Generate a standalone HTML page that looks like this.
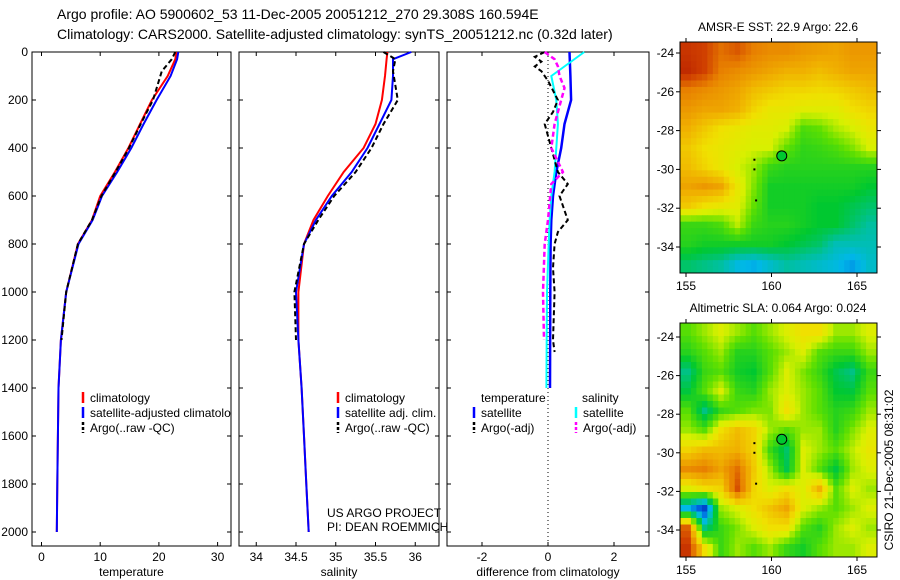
<!DOCTYPE html>
<html><head><meta charset="utf-8"><style>
body{margin:0;background:#fff}
svg{display:block;font-family:"Liberation Sans",sans-serif}
</style></head><body>
<svg id="c" width="900" height="580" xmlns="http://www.w3.org/2000/svg"></svg>
<script>
// ---- data ----
const tDepth=[0,30,100,200,300,400,500,600,700,800,1000,1200,1400,1600,1800,2000];
const tClim=[23.0,22.8,21.5,18.8,16.8,14.8,12.5,10.0,8.6,6.2,4.2,3.3,2.9,2.8,2.7,2.6];
const tSat=[23.3,23.1,22.0,19.6,17.4,15.3,12.9,10.3,8.7,6.3,4.2,3.3,2.9,2.8,2.7,2.6];
const aDepth=[0,30,80,200,300,400,500,600,700,800,1000,1200];
const tArgo=[22.8,22.2,20.5,19.0,16.9,14.9,12.6,10.2,8.6,6.2,4.2,3.4];
const sClim=[35.65,35.64,35.62,35.58,35.5,35.35,35.1,34.9,34.72,34.6,34.53,34.53,34.57,34.6,34.63,34.66];
const sSat=[35.95,35.72,35.72,35.7,35.55,35.4,35.2,34.95,34.75,34.6,34.5,34.53,34.57,34.6,34.63,34.66];
const sArgo=[35.6,35.75,35.72,35.78,35.6,35.45,35.25,34.98,34.78,34.6,34.48,34.5];
const dDepth=[0,100,200,300,400,500,600,700,800,1000,1400];
const dTSat=[0.65,0.68,0.7,0.5,0.4,0.25,0.15,0.1,0.08,0.07,0.06];
const dSSat=[1.1,0.1,0.25,0.3,0.25,0.2,0.1,0.05,0.02,-0.03,-0.05];
const gDepth=[0,20,40,60,80,120,200,250,300,400,500,550,600,700,750,800,900,1000,1200,1250];
const dTArgo=[-0.1,-0.4,-0.2,-0.4,-0.2,0.0,0.3,0.15,-0.1,0.1,0.3,0.6,0.35,0.6,0.3,0.2,0.15,0.2,0.15,0.2];
const mDepth=[0,30,60,100,150,200,300,400,500,550,700,800,1000,1200];
const dSArgo=[-0.1,0.2,0.3,0.35,0.5,0.4,0.2,0.1,0.45,0.1,0.0,-0.1,-0.15,-0.12];
const sstGrid=[
[.9,.88,.82,.85,.8,.78,.78,.76,.75,.74,.76,.76],
[.92,.88,.8,.78,.76,.74,.72,.72,.7,.72,.74,.74],
[.8,.78,.76,.74,.7,.68,.66,.66,.65,.66,.68,.7],
[.76,.74,.74,.72,.66,.62,.62,.6,.6,.6,.64,.66],
[.72,.68,.64,.62,.6,.6,.58,.48,.5,.55,.58,.62],
[.68,.64,.62,.6,.58,.58,.5,.45,.46,.48,.52,.58],
[.7,.66,.62,.58,.54,.46,.44,.44,.44,.44,.44,.44],
[.74,.76,.74,.62,.52,.42,.42,.42,.42,.42,.42,.4],
[.68,.64,.62,.6,.5,.42,.42,.42,.4,.4,.38,.36],
[.46,.46,.48,.56,.46,.44,.44,.42,.4,.4,.36,.32],
[.44,.42,.42,.42,.42,.42,.4,.38,.36,.3,.3,.3],
[.36,.34,.32,.26,.24,.28,.32,.3,.28,.26,.22,.28]];
const slaGrid=[
[.49,.54,.59,.54,.49,.54,.59,.64,.64,.54,.54,.59],
[.44,.49,.54,.44,.44,.49,.54,.59,.49,.46,.46,.54],
[.34,.46,.49,.42,.4,.49,.59,.52,.46,.38,.34,.46],
[.39,.49,.59,.46,.44,.54,.59,.54,.49,.4,.39,.49],
[.49,.34,.46,.49,.52,.52,.64,.54,.49,.44,.46,.54],
[.54,.49,.64,.7,.66,.54,.49,.54,.54,.44,.52,.59],
[.66,.7,.7,.72,.66,.46,.36,.59,.54,.49,.56,.62],
[.78,.8,.74,.82,.68,.54,.38,.59,.49,.39,.54,.59],
[.59,.64,.66,.86,.66,.59,.64,.59,.72,.49,.59,.54],
[.25,.1,.54,.59,.64,.69,.74,.59,.54,.49,.54,.59],
[.84,.34,.46,.52,.59,.64,.64,.49,.44,.54,.59,.54],
[.9,.64,.46,.54,.49,.54,.46,.42,.49,.54,.54,.59]];
const depthTicks=[0,200,400,600,800,1000,1200,1400,1600,1800,2000];
const tTicks=[0,10,20,30];
const sTicks=[34,34.5,35,35.5,36];
const dTicks=[-2,0,2];
const lonTicks=[155,160,165];
const latTicks=[-24,-26,-28,-30,-32,-34];

const S=document.getElementById('c');const NS='http://www.w3.org/2000/svg';
function mk(t,a,txt){const e=document.createElementNS(NS,t);for(const k in a)e.setAttribute(k,a[k]);if(txt!=null)e.textContent=txt;S.appendChild(e);return e;}
const yD=d=>52+d*0.24;
function txt(x,y,s,anchor,size,name){const e=mk('text',{x:x,y:y,'font-size':size||12,'text-anchor':anchor||'start',fill:'#000'},s);

return e;}
function line(xs,ys,xf,col,w,dash,name){let p='';for(let i=0;i<xs.length;i++)p+=(i?'L':'M')+xf(xs[i]).toFixed(1)+','+yD(ys[i]).toFixed(1);
const e=mk('path',{d:p,fill:'none',stroke:col,'stroke-width':w,'stroke-dasharray':dash||'none'});

}
function panel(x0,x1,xf,ticks,fmt,xlabel,name,ylabels){
 const f=mk('rect',{x:x0,y:52,width:x1-x0,height:494,fill:'none',stroke:'#000','stroke-width':1});
 
 
 depthTicks.forEach(d=>{const y=yD(d);mk('line',{x1:x0,y1:y,x2:x0+4,y2:y,stroke:'#000'});mk('line',{x1:x1,y1:y,x2:x1-4,y2:y,stroke:'#000'});
  if(ylabels)txt(x0-4,y+4,String(d),'end',12,'depth-tick-label');});
 ticks.forEach(t=>{const x=xf(t);mk('line',{x1:x,y1:52,x2:x,y2:56,stroke:'#000'});mk('line',{x1:x,y1:546,x2:x,y2:542,stroke:'#000'});
  txt(x,561,fmt(t),'middle',12,name+'-x-tick-label');});
 txt((x0+x1)/2,576,xlabel,'middle',12,name+'-x-axis-title');
}
const xT=v=>41.5+v*5.87, xS=v=>296+(v-34.5)*79.5, xDf=v=>548+v*33;
panel(32,231,xT,tTicks,String,'temperature','temperature-panel',true);
panel(239,439,xS,sTicks,String,'salinity','salinity-panel',false);
panel(447,649,xDf,dTicks,String,'difference from climatology','difference-panel',false);
line(tClim,tDepth,xT,'#f00',2,null,'temperature-climatology-line');
line(tSat,tDepth,xT,'#00f',2,null,'temperature-satellite-line');
line(tArgo,aDepth,xT,'#000',2,'5,3','temperature-argo-line');
line(sClim,tDepth,xS,'#f00',2,null,'salinity-climatology-line');
line(sSat,tDepth,xS,'#00f',2,null,'salinity-satellite-line');
line(sArgo,aDepth,xS,'#000',2,'5,3','salinity-argo-line');
mk('line',{x1:548,y1:52,x2:548,y2:546,stroke:'#000','stroke-dasharray':'1,3'});
line(dTSat,dDepth,xDf,'#00f',2.5,null,'temperature-satellite-diff-line');
line(dSSat,dDepth,xDf,'#0ff',2,null,'salinity-satellite-diff-line');
line(dTArgo,gDepth,xDf,'#000',2,'5,3','temperature-argo-diff-line');
line(dSArgo,mDepth,xDf,'#f0f',2.5,'5,3','salinity-argo-diff-line');
// legends
function leg(x,y,col,dash,label,name){mk('line',{x1:x,y1:y-10,x2:x,y2:y+1,stroke:col,'stroke-width':2.5,'stroke-dasharray':dash||'none'});txt(x+7,y,label,'start',12,name);}
const clipT=mk('clipPath',{id:'cp1'});const cr=document.createElementNS(NS,'rect');cr.setAttribute('x',32);cr.setAttribute('y',380);cr.setAttribute('width',199);cr.setAttribute('height',60);clipT.appendChild(cr);
leg(83,402,'#f00',null,'climatology','legend-climatology');
const g=mk('text',{x:90,y:417,'font-size':12,'clip-path':'url(#cp1)'},'satellite-adjusted climatology');

mk('line',{x1:83,y1:407,x2:83,y2:418,stroke:'#00f','stroke-width':2.5});
leg(83,432,'#000','3,2','Argo(..raw -QC)','legend-argo');
leg(338,402,'#f00',null,'climatology','legend-climatology-2');
leg(338,417,'#00f',null,'satellite adj. clim.','legend-satellite-2');
leg(338,432,'#000','3,2','Argo(..raw -QC)','legend-argo-2');
txt(481,402,'temperature','start',12,'legend-temperature-header');
txt(582,402,'salinity','start',12,'legend-salinity-header');
leg(474,417,'#00f',null,'satellite','legend-temp-satellite');
leg(474,432,'#000','3,2','Argo(-adj)','legend-temp-argo');
leg(576,417,'#0ff',null,'satellite','legend-sal-satellite');
leg(576,432,'#f0f','3,2','Argo(-adj)','legend-sal-argo');
txt(327,517,'US ARGO PROJECT','start',12,'project-label');
txt(327,531,'PI: DEAN ROEMMICH','start',12,'pi-label');
txt(57,19,'Argo profile: AO 5900602_53 11-Dec-2005 20051212_270 29.308S 160.594E','start',14,'title-line-1');
txt(57,39,'Climatology: CARS2000. Satellite-adjusted climatology: synTS_20051212.nc (0.32d later)','start',14,'title-line-2');
// maps
const stops=[[0,[0,16,160]],[.15,[0,96,224]],[.25,[0,184,232]],[.32,[0,192,160]],[.4,[0,200,48]],[.5,[96,224,0]],[.58,[216,240,0]],[.64,[240,224,0]],[.72,[240,176,0]],[.8,[232,128,0]],[.88,[208,64,0]],[1,[160,0,0]]];
function cmap(v){for(let i=1;i<stops.length;i++){if(v<=stops[i][0]){const a=stops[i-1],b=stops[i],t=(v-a[0])/(b[0]-a[0]);return 'rgb('+a[1].map((c,k)=>Math.round(c+(b[1][k]-c)*t)).join(',')+')';}}return 'rgb(160,0,0)';}
function sample(grid,fr,fc){const nr=grid.length,nc=grid[0].length;
 const r=Math.min(Math.max(fr,0),nr-1),c=Math.min(Math.max(fc,0),nc-1);
 const r0=Math.floor(r),c0=Math.floor(c),r1=Math.min(r0+1,nr-1),c1=Math.min(c0+1,nc-1),tr=r-r0,tc=c-c0;
 return grid[r0][c0]*(1-tr)*(1-tc)+grid[r0][c1]*(1-tr)*tc+grid[r1][c0]*tr*(1-tc)+grid[r1][c1]*tr*tc;}
function map(grid,top,bot,y24,y34,title,name){
 const x0=680,x1=877,lonX=l=>686+(l-155)*17.1,latY=l=>y24+(-24-l)*(y34-y24)/10;
 const nr=grid.length,nc=grid[0].length,sub=3,NR=nr*sub,NC=nc*sub,cw=(x1-x0)/NC,ch=(bot-top)/NR;
 for(let r=0;r<NR;r++)for(let c=0;c<NC;c++){
  const v=sample(grid,(r+0.5)/sub-0.5,(c+0.5)/sub-0.5);
  const e=mk('rect',{x:(x0+c*cw).toFixed(2),y:(top+r*ch).toFixed(2),width:(cw+0.5).toFixed(2),height:(ch+0.5).toFixed(2),fill:cmap(v)});
  
  }
 const f=mk('rect',{x:x0,y:top,width:x1-x0,height:bot-top,fill:'none',stroke:'#000'});
 
 lonTicks.forEach(l=>{const x=lonX(l);mk('line',{x1:x,y1:top,x2:x,y2:top-4,stroke:'#000'});mk('line',{x1:x,y1:bot,x2:x,y2:bot+4,stroke:'#000'});txt(x,bot+17,String(l),'middle',12,name+'-lon-label');});
 latTicks.forEach(l=>{const y=latY(l);mk('line',{x1:x0,y1:y,x2:x0-4,y2:y,stroke:'#000'});mk('line',{x1:x1,y1:y,x2:x1+4,y2:y,stroke:'#000'});txt(x0-6,y+4,String(l),'end',12,name+'-lat-label');});
 [[159,-29.5],[159,-30],[159.1,-31.6]].forEach(p=>mk('rect',{x:lonX(p[0])-1,y:latY(p[1])-1,width:2,height:2,fill:'#000'}));
 const c=mk('circle',{cx:lonX(160.6),cy:latY(-29.3),r:5,fill:'#00c830',stroke:'#000'});
 
 txt(778,top-11,title,'middle',12,name+'-title');
}
map(sstGrid,42,273,53,247,'AMSR-E SST: 22.9 Argo: 22.6','sst-map');
map(slaGrid,323,557,337,530,'Altimetric SLA: 0.064 Argo: 0.024','sla-map');
const r=txt(0,0,'CSIRO 21-Dec-2005 08:31:02','middle',12,'timestamp-label');
r.setAttribute('transform','translate(893,470) rotate(-90)');
</script>
</body></html>
